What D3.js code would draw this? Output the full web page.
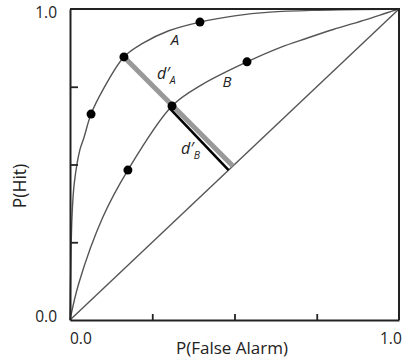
<!DOCTYPE html>
<html><head><meta charset="utf-8">
<script src="https://cdn.jsdelivr.net/npm/d3@7"></script>
<style>body{margin:0;background:#fff}svg{display:block}text{font-family:"Open Sans",sans-serif;fill:#222}</style>
</head><body>
<script>
// ROC curves: [P(False Alarm), P(Hit)]
const curveA = [[0,0],[0.002,0.15],[0.006,0.33],[0.013,0.44],[0.03,0.547],[0.042,0.585],[0.064,0.662],[0.10,0.74],[0.164,0.846],[0.222,0.89],[0.30,0.93],[0.395,0.958],[0.5,0.978],[0.608,0.99],[0.75,0.996],[1,1]];
const curveB = [[0,0],[0.027,0.119],[0.10,0.331],[0.176,0.482],[0.31,0.688],[0.40,0.756],[0.538,0.83],[0.638,0.876],[0.72,0.906],[0.80,0.934],[0.90,0.966],[0.964,0.988],[1,1]];
const chance = [[0,0],[1,1]];
const pointsA = [[0.064,0.662],[0.164,0.846],[0.395,0.958]];
const pointsB = [[0.176,0.482],[0.31,0.688],[0.538,0.83]];
const dA = [[0.164,0.846],[0.495,0.495]];
const dB = [[0.31,0.688],[0.488,0.49]];
const tickVals = [0.25,0.5,0.75];
const endLabels = ["0.0","1.0"];
const xTitle = "P(False Alarm)", yTitle = "P(Hit)";

const W=403,H=360, L=70,R=399,T=9,B=320;
const svg=d3.select("body").append("svg").attr("width",W).attr("height",H);
const x=d3.scaleLinear().domain([0,1]).range([L,R]);
const y=d3.scaleLinear().domain([0,1]).range([B,T]);
const line=d3.line().x(d=>x(d[0])).y(d=>y(d[1]));
const smooth=d3.line().x(d=>x(d[0])).y(d=>y(d[1])).curve(d3.curveCatmullRom.alpha(0.5));

// curves
svg.append("path").attr("d",line(chance)).attr("fill","none").attr("stroke","#555").attr("stroke-width",1.4);
[curveA,curveB].forEach(c=>svg.append("path").attr("d",smooth(c)).attr("fill","none").attr("stroke","#555").attr("stroke-width",1.4));

// d' lines
svg.append("path").attr("d",line(dA)).attr("stroke","#999").attr("stroke-width",5).attr("fill","none");
svg.append("path").attr("d",line(dB)).attr("stroke","#000").attr("stroke-width",2.6).attr("fill","none").attr("transform","translate(-2,2.5)");

// points
svg.selectAll("circle.p").data(pointsA.concat(pointsB)).join("circle").attr("class","p")
  .attr("cx",d=>x(d[0])).attr("cy",d=>y(d[1])).attr("r",4.5).attr("fill","#000");

// axes
const xa=svg.append("g").attr("transform",`translate(0,${B})`).call(d3.axisBottom(x).tickValues(tickVals).tickSizeInner(-6).tickSizeOuter(0).tickFormat(""));
const ya=svg.append("g").attr("transform",`translate(${L},0)`).call(d3.axisLeft(y).tickValues(tickVals).tickSizeInner(-8).tickSizeOuter(0).tickFormat(""));
[xa,ya].forEach(g=>{g.select(".domain").attr("stroke","#222").attr("stroke-width",2);g.selectAll(".tick line").attr("stroke","#222").attr("stroke-width",1.8);});
// box top/right
svg.append("path").attr("d",`M${L},${T}H${R}V${B}`).attr("fill","none").attr("stroke","#222").attr("stroke-width",2);

// tick labels
svg.append("text").attr("x",57).attr("y",y(1)+9).attr("text-anchor","end").attr("font-size",15.5).text(endLabels[1]);
svg.append("text").attr("x",57).attr("y",y(0)+2).attr("text-anchor","end").attr("font-size",15.5).text(endLabels[0]);
svg.append("text").attr("x",x(0)).attr("y",344).attr("font-size",15.5).text(endLabels[0]);
svg.append("text").attr("x",380).attr("y",344).attr("font-size",15.5).text(endLabels[1]);

// titles
svg.append("text").attr("x",232).attr("y",354).attr("text-anchor","middle").attr("font-size",17).text(xTitle);
svg.append("text").attr("transform","translate(26,186) rotate(-90)").attr("text-anchor","middle").attr("font-size",17.5).text(yTitle);

// curve labels
svg.append("text").attr("x",175).attr("y",45).attr("text-anchor","middle").attr("font-size",15).attr("font-style","italic").text("A");
svg.append("text").attr("x",227).attr("y",87).attr("text-anchor","middle").attr("font-size",15).attr("font-style","italic").text("B");
function dlab(px,py,sub){
  const t=svg.append("text").attr("x",px).attr("y",py).attr("font-size",16).attr("font-style","italic");
  t.append("tspan").text("d\u2032");
  t.append("tspan").attr("dy",5).attr("font-size",10.5).text(sub);
}
dlab(157,79,"A");
dlab(181,154,"B");
</script>
</body></html>
